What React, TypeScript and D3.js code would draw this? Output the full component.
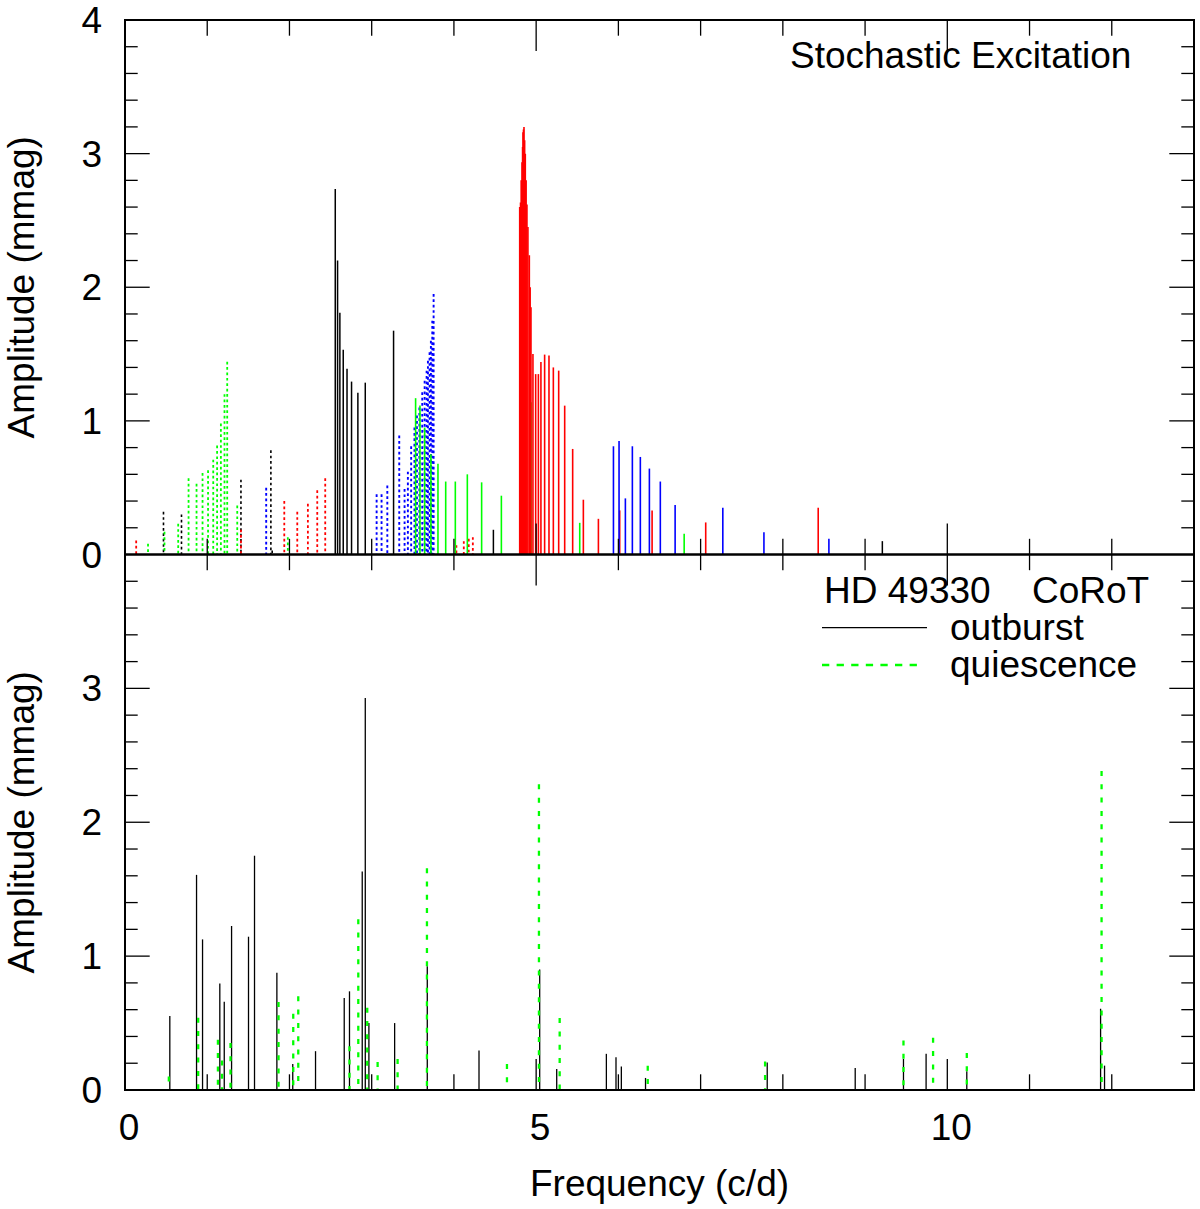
import * as d3 from "d3";

// ---- data: [frequency (c/d), amplitude (mmag)] ----
// top panel (stochastic excitation simulation)
const greenDotted = [
  [0.28, 0.08], [0.48, 0.17], [0.647, 0.23], [0.773, 0.57], [0.87, 0.53], [0.943, 0.61],
  [1.01, 0.63], [1.073, 0.71], [1.12, 0.815], [1.166, 0.98], [1.21, 1.2], [1.243, 1.443],
  [1.365, 0.366], [1.98, 0.13],
];
const blackDotted = [[0.468, 0.32], [0.687, 0.3], [1.41, 0.56], [1.774, 0.78], [1.79, 0.03]];
const redDotted = [
  [0.136, 0.105], [1.41, 0.186], [1.937, 0.4], [2.095, 0.32], [2.224, 0.38], [2.338, 0.48],
  [2.435, 0.57], [4.03, 0.07], [4.12, 0.1], [4.18, 0.117], [4.23, 0.13],
];
const blueDotted = [
  [1.717, 0.5], [3.06, 0.45], [3.12, 0.45], [3.19, 0.516], [3.335, 0.89], [3.4, 0.49],
  [3.44, 0.62], [3.48, 0.81], [3.52, 0.95], [3.55, 1.04], [3.58, 1.1], [3.615, 1.214],
  [3.644, 1.3], [3.668, 1.376], [3.684, 1.45], [3.704, 1.513], [3.72, 1.6], [3.737, 1.75],
  [3.753, 1.95],
];
const blackSolid = [
  [2.557, 2.735], [2.585, 2.2], [2.613, 1.81], [2.654, 1.533], [2.7, 1.39], [2.755, 1.294],
  [2.832, 1.21], [2.922, 1.286], [3.266, 1.675], [4.48, 0.185], [9.21, 0.1],
];
const greenSolid = [
  [3.534, 1.17], [3.587, 1.115], [3.644, 0.95], [3.72, 0.75], [3.806, 0.68], [3.9, 0.546],
  [4.017, 0.546], [4.163, 0.6], [4.337, 0.54], [4.577, 0.44], [4.937, 1.14], [5.53, 0.237],
  [6.8, 0.155],
];
const redSolid = [
  [4.8, 2.6], [4.81, 2.635], [4.818, 2.8], [4.828, 2.935], [4.835, 3.05], [4.84, 3.16],
  [4.846, 3.18], [4.852, 3.2], [4.86, 3.1], [4.868, 3.0], [4.878, 2.8], [4.888, 2.62],
  [4.9, 2.45], [4.917, 2.24], [4.927, 2.0], [4.937, 1.85], [4.961, 1.5], [4.994, 1.35],
  [5.027, 1.35], [5.058, 1.44], [5.103, 1.496], [5.156, 1.49], [5.209, 1.4], [5.274, 1.376],
  [5.347, 1.114], [5.444, 0.79], [5.574, 0.41], [5.757, 0.267], [6.016, 0.33], [6.41, 0.33],
  [7.062, 0.24], [8.43, 0.35],
];
const blueSolid = [
  [5.94, 0.81], [6.008, 0.85], [6.085, 0.42], [6.17, 0.81], [6.267, 0.73], [6.377, 0.643],
  [6.51, 0.546], [6.69, 0.37], [7.27, 0.35], [7.77, 0.167], [8.56, 0.117],
];

// bottom panel (HD 49330, CoRoT)
const outburst = [
  [0.545, 0.552], [0.87, 1.607], [0.943, 1.125], [1.153, 0.795], [1.207, 0.66], [1.296, 1.225],
  [1.502, 1.145], [1.575, 1.75], [1.847, 0.875], [2.04, 0.195], [2.317, 0.29], [2.666, 0.687],
  [2.73, 0.737], [2.885, 1.633], [2.922, 2.928], [2.966, 0.5], [3.279, 0.5], [3.676, 0.925],
  [4.305, 0.295], [5.043, 0.9], [5.25, 0.157], [5.854, 0.27], [5.971, 0.245], [6.036, 0.175],
  [6.33, 0.09], [7.81, 0.205], [8.88, 0.165], [9.467, 0.232], [9.742, 0.27], [10.237, 0.14],
  [11.864, 0.607], [11.912, 0.182],
];
const quiescence = [
  [0.533, 0.1], [0.89, 0.54], [1.13, 0.375], [1.18, 0.22], [1.283, 0.352], [1.867, 0.657],
  [2.046, 0.57], [2.107, 0.7], [2.73, 0.327], [2.837, 1.275], [2.946, 0.615], [3.072, 0.21],
  [3.315, 0.232], [3.672, 1.657], [4.645, 0.195], [5.034, 2.283], [5.286, 0.537], [6.357, 0.182],
  [7.784, 0.212], [9.467, 0.37], [9.827, 0.39], [10.237, 0.277], [11.876, 2.383],
];

const topTickLabels = [0, 1, 2, 3, 4];
const bottomTickLabels = [0, 1, 2, 3];
const xTickLabels = [0, 5, 10];

const FONT = "'Liberation Sans', Arial, Helvetica, sans-serif";
const FS = 37;

const W = 1200;
const H = 1209;
const left = 125;
const right = 1194;
const top = 20;
const mid = 554.5;
const bottom = 1090;

const x = d3.scaleLinear().domain([0, 13]).range([left, right]);
const yTop = d3.scaleLinear().domain([0, 4]).range([mid, top]);
const yBot = d3.scaleLinear().domain([0, 4]).range([bottom, mid]);

type Style = { color: string; width: number; dash?: string };

const topSeries: Array<{ data: number[][]; style: Style }> = [
  { data: blackDotted, style: { color: "#000", width: 1.6, dash: "2.7 2.7" } },
  { data: redDotted, style: { color: "#ff0000", width: 1.8, dash: "2.7 2.7" } },
  { data: greenDotted, style: { color: "#00ff00", width: 1.8, dash: "2.7 2.7" } },
  { data: blueDotted, style: { color: "#0000ff", width: 1.9, dash: "2.7 2.7" } },
  { data: blackSolid, style: { color: "#000", width: 1.5 } },
  { data: greenSolid, style: { color: "#00ff00", width: 1.6 } },
  { data: redSolid, style: { color: "#ff0000", width: 1.6 } },
  { data: blueSolid, style: { color: "#0000ff", width: 1.6 } },
];

const bottomSeries: Array<{ data: number[][]; style: Style }> = [
  { data: outburst, style: { color: "#000", width: 1.3 } },
  { data: quiescence, style: { color: "#00ff00", width: 2.3, dash: "5 8.3" } },
];

// impulses are drawn from the peak down so the dash pattern starts at the top
function Impulses({ series, y }: { series: Array<{ data: number[][]; style: Style }>; y: d3.ScaleLinear<number, number> }) {
  return (
    <g>
      {series.map((s, i) => (
        <g key={i} stroke={s.style.color} strokeWidth={s.style.width} strokeDasharray={s.style.dash}>
          {s.data.map(([f, a], j) => (
            <line key={j} x1={x(f)} x2={x(f)} y1={y(a)} y2={y(0)} />
          ))}
        </g>
      ))}
    </g>
  );
}

function Frame({ y, labels }: { y: d3.ScaleLinear<number, number>; labels: number[] }) {
  const [y0, y1] = y.range();
  const xMinor = d3.range(1, 13);
  const yMinor = d3.range(1, 20).map((i) => i * 0.2);
  return (
    <g stroke="#000" strokeWidth={1.3}>
      {xMinor.map((v) => {
        const len = v % 5 === 0 ? 31 : 15.7;
        return (
          <g key={"x" + v}>
            <line x1={x(v)} x2={x(v)} y1={y0} y2={y0 - len} />
            <line x1={x(v)} x2={x(v)} y1={y1} y2={y1 + len} />
          </g>
        );
      })}
      {yMinor.map((v) => {
        const len = Math.abs(v - Math.round(v)) < 1e-6 ? 24.7 : 12.7;
        return (
          <g key={"y" + v}>
            <line x1={left} x2={left + len} y1={y(v)} y2={y(v)} />
            <line x1={right} x2={right - len} y1={y(v)} y2={y(v)} />
          </g>
        );
      })}
      <rect x={left} y={y1} width={right - left} height={y0 - y1} fill="none" strokeWidth={2} />
      <g stroke="none" fill="#000" fontFamily={FONT} fontSize={FS} textAnchor="end">
        {labels.map((v) => (
          <text key={v} x={102} y={y(v) + 13}>
            {v}
          </text>
        ))}
      </g>
      <text
        stroke="none"
        fill="#000"
        fontFamily={FONT}
        fontSize={FS}
        textAnchor="middle"
        transform={`translate(34,${y(2)}) rotate(-90)`}
      >
        Amplitude (mmag)
      </text>
    </g>
  );
}

export default function App() {
  return (
    <div style={{ position: "absolute", left: 0, top: 0 }}>
      <svg width={W} height={H} style={{ display: "block", background: "#fff" }}>
        <rect width={W} height={H} fill="#fff" />
        <Impulses series={topSeries} y={yTop} />
        <Impulses series={bottomSeries} y={yBot} />
        <Frame y={yTop} labels={topTickLabels} />
        <Frame y={yBot} labels={bottomTickLabels} />

        <g fontFamily={FONT} fontSize={FS} fill="#000">
          {xTickLabels.map((v) => (
            <text key={v} x={x(v) + 4} y={1140} textAnchor="middle">
              {v}
            </text>
          ))}
          <text x={(left + right) / 2} y={1196} textAnchor="middle">
            Frequency (c/d)
          </text>
          <text x={790} y={68}>Stochastic Excitation</text>
          <text x={824} y={603}>HD 49330</text>
          <text x={1032} y={603}>CoRoT</text>
          <text x={950} y={640}>outburst</text>
          <text x={950} y={677}>quiescence</text>
        </g>
        <line x1={822} x2={927} y1={627.7} y2={627.7} stroke="#000" strokeWidth={1.3} />
        <line
          x1={822}
          x2={920}
          y1={665}
          y2={665}
          stroke="#00ff00"
          strokeWidth={2.3}
          strokeDasharray="7.3 7.3"
        />
      </svg>
    </div>
  );
}
